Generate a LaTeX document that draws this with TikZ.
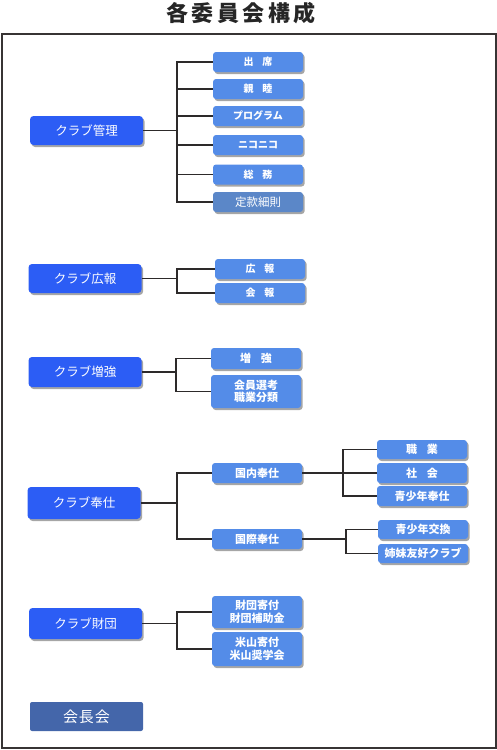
\documentclass[tikz,border=0pt]{standalone}
\usepackage{fontspec}
\setmainfont{Noto Sans CJK JP}
\usetikzlibrary{shadows}
\definecolor{mainblue}{RGB}{44,93,245}
\definecolor{subblue}{RGB}{84,140,232}
\definecolor{altblue}{RGB}{91,135,200}
\definecolor{chairblue}{RGB}{68,102,170}
\definecolor{linegray}{RGB}{45,42,42}
\definecolor{framegray}{RGB}{55,52,52}
\tikzset{
  boxshadow/.style={drop shadow={shadow xshift=1.6pt,shadow yshift=-2pt,opacity=0.35,fill=black}},
  mainbox/.style={fill=mainblue,text=white,rounded corners=3.5pt,minimum width=113pt,minimum height=29pt,inner sep=0pt,boxshadow,font=\fontsize{12.5}{14}\selectfont},
  subbox/.style={fill=subblue,text=white,rounded corners=3pt,minimum width=90pt,minimum height=20pt,inner sep=0pt,boxshadow,align=center,font=\fontsize{11}{12.5}\selectfont\bfseries},
  smallsub/.style={subbox,font=\fontsize{10}{12}\selectfont\bfseries},
  altbox/.style={subbox,fill=altblue,font=\fontsize{11.5}{13}\selectfont},
  chairbox/.style={fill=chairblue,text=white,rounded corners=2pt,minimum width=113pt,minimum height=29pt,inner sep=0pt,font=\fontsize{15}{17}\selectfont},
  conn/.style={draw=linegray,line width=1.2pt},
  titletext/.style={font=\fontsize{22}{24}\selectfont\bfseries,text=black!85}
}
\newcommand{\jsp}{\hspace{0.9em}}
\newcommand{\jtg}{\hspace{3.5pt}}
\begin{document}
\begin{tikzpicture}[x=1pt,y=-1pt]
\useasboundingbox (0,0) rectangle (497,750);
\node[titletext] (title) at (241,13) {各\jtg 委\jtg 員\jtg 会\jtg 構\jtg 成};
\draw[draw=framegray,line width=2pt] (1.5,33.5) rectangle (495.5,748);

% ---- クラブ管理
\node[mainbox] (m1) at (86.5,130.5) {クラブ管理};
\node[smallsub] (a1) at (258,62) {出\jsp 席};
\node[smallsub] (a2) at (258,89) {親\jsp 睦};
\node[smallsub] (a3) at (258,116) {プログラム};
\node[smallsub] (a4) at (258,145) {ニコニコ};
\node[smallsub] (a5) at (258,174.5) {総\jsp 務};
\node[altbox] (a6) at (258,202) {定款細則};
\coordinate (b1) at (177,130.5);
\draw[conn] (m1.east) -- (b1);
\foreach \c in {a1,a2,a3,a4,a5,a6} \draw[conn] (b1) |- (\c.west);

% ---- クラブ広報
\node[mainbox] (m2) at (85,278.5) {クラブ広報};
\node[smallsub] (c1) at (260,269) {広\jsp 報};
\node[smallsub] (c2) at (260,293) {会\jsp 報};
\coordinate (b2) at (177,278.5);
\draw[conn] (m2.east) -- (b2);
\foreach \c in {c1,c2} \draw[conn] (b2) |- (\c.west);

% ---- クラブ増強
\node[mainbox,minimum height=30pt] (m3) at (85,372) {クラブ増強};
\node[subbox,minimum height=21pt] (d1) at (256,358.5) {増\jsp 強};
\node[subbox,minimum height=33pt] (d2) at (256,391.5) {会員選考\\職業分類};
\coordinate (b3) at (176,372);
\draw[conn] (m3.east) -- (b3);
\foreach \c in {d1,d2} \draw[conn] (b3) |- (\c.west);

% ---- クラブ奉仕
\node[mainbox,minimum height=32pt] (m4) at (84,503) {クラブ奉仕};
\node[subbox] (e1) at (257,473) {国内奉仕};
\node[subbox] (e2) at (257,539) {国際奉仕};
\coordinate (b4) at (177,503);
\draw[conn] (m4.east) -- (b4);
\foreach \c in {e1,e2} \draw[conn] (b4) |- (\c.west);

\node[subbox,minimum height=19pt] (f1) at (422,449.5) {職\jsp 業};
\node[subbox] (f2) at (422,473) {社\jsp 会};
\node[subbox] (f3) at (422,496) {青少年奉仕};
\coordinate (b5) at (343,473);
\draw[conn] (e1.east) -- (b5);
\foreach \c in {f1,f2,f3} \draw[conn] (b5) |- (\c.west);

\node[subbox,minimum height=19pt] (g1) at (423,529.5) {青少年交換};
\node[subbox,minimum height=19pt] (g2) at (423,553.5) {姉妹友好クラブ};
\coordinate (b6) at (346,539);
\draw[conn] (e2.east) -- (b6);
\foreach \c in {g1,g2} \draw[conn] (b6) |- (\c.west);

% ---- クラブ財団
\node[mainbox,minimum height=31pt] (m5) at (85.5,623.5) {クラブ財団};
\node[subbox,minimum height=32pt] (h1) at (257,612) {財団寄付\\財団補助金};
\node[subbox,minimum height=34pt] (h2) at (257,649) {米山寄付\\米山奨学会};
\coordinate (b7) at (177,623.5);
\draw[conn] (m5.east) -- (b7);
\foreach \c in {h1,h2} \draw[conn] (b7) |- (\c.west);

% ---- 会長会
\node[chairbox] (k1) at (86.5,716.5) {会\hspace{1pt}長\hspace{1pt}会};
\end{tikzpicture}
\end{document}
